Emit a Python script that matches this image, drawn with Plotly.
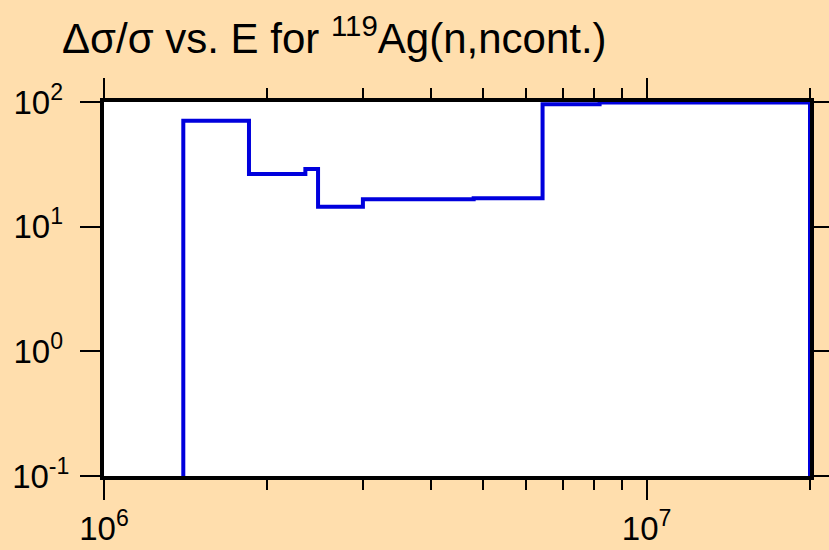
import plotly.graph_objects as go

# bin edges (eV) and relative uncertainty (%) per bin
energy_edges = [1.40e6, 1.85e6, 2.35e6, 2.48e6, 3.00e6, 4.80e6, 6.43e6, 8.19e6, 2.00e7]
rel_unc = [70.8, 26.5, 29.0, 14.45, 16.6, 16.9, 95.8, 99.0]
y_floor = 0.1

x_tickvals = [1e6, 1e7]
x_ticktext = ['10<sup>6</sup>', '10<sup>7</sup>']
y_tickvals = [0.1, 1, 10, 100]
# labels are left aligned in the original, so pad the short exponents
y_ticktext = ['10<sup>-1</sup>', '10<sup>0\u00a0</sup>', '10<sup>1\u00a0</sup>', '10<sup>2\u00a0</sup>']

# step outline: rise from the floor, walk the bins, drop back down
xs = [energy_edges[0]] + energy_edges + [energy_edges[-1]]
ys = [y_floor] + rel_unc + [rel_unc[-1], y_floor]

fig = go.Figure()
fig.add_trace(go.Scatter(
    x=xs, y=ys, mode='lines',
    line=dict(color='#0000dd', width=4, shape='hv'),
    showlegend=False, hoverinfo='skip'
))

axis_common = dict(
    type='log', showgrid=False, zeroline=False, automargin=False,
    showline=True, linecolor='black', linewidth=4, mirror='allticks',
    ticks='outside', ticklen=20, tickwidth=2, tickcolor='black',
    tickmode='array', tickfont=dict(size=33, color='black'),
    layer='below traces',  # the blue outline sits on top of the frame
)

fig.update_xaxes(
    range=[6, 7.30103], tickvals=x_tickvals, ticktext=x_ticktext,
    minor=dict(ticks='outside', ticklen=10, tickwidth=2, tickcolor='black',
               tickvals=[k * 10 ** e for e in (6, 7) for k in range(2, 10)]),
    ticklabelstandoff=0,
    **axis_common
)
fig.update_yaxes(
    range=[-1, 2], tickvals=y_tickvals, ticktext=y_ticktext,
    ticklabelstandoff=4,
    **axis_common
)

fig.update_layout(
    width=829, height=550,
    margin=dict(l=104, r=19, t=102, b=74),
    paper_bgcolor='#FFDEAD', plot_bgcolor='white',
    font=dict(family='Arial, Liberation Sans, sans-serif', color='black'),
    title=dict(
        text='Δσ/σ vs. E for <sup>119</sup>Ag(n,ncont.)',
        x=62 / 829, xanchor='left', xref='container',
        y=0.93, yanchor='middle', yref='container',
        font=dict(size=42, color='black')
    ),
)

# drop the default page margin so the figure sits at the window's corner
fig.write_html('out.html', config={'displayModeBar': False},
               post_script="document.body.style.margin='0';")
